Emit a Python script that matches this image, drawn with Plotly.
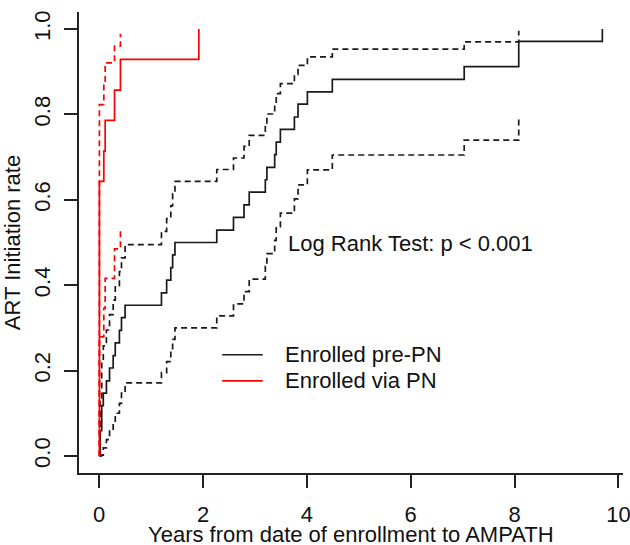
import plotly.graph_objects as go

# ---- data (cumulative ART initiation, KM "event" curves) ----
pre_time = [0, 0.02, 0.05, 0.08, 0.14, 0.20, 0.27, 0.31, 0.39, 0.43, 0.50,
            1.20, 1.30, 1.38, 1.415, 1.46,
            2.265, 2.587, 2.79, 2.89,
            3.20, 3.23, 3.38, 3.41, 3.49, 3.76, 3.83, 4.01, 4.49,
            7.03, 8.08, 9.69]
pre_est = [0, 0.059, 0.118, 0.147, 0.176, 0.206, 0.235, 0.265, 0.294, 0.324, 0.353,
           0.382, 0.412, 0.441, 0.471, 0.500,
           0.529, 0.559, 0.588, 0.618,
           0.647, 0.676, 0.706, 0.735, 0.765, 0.794, 0.824, 0.853, 0.882,
           0.912, 0.971, 1.000]
pre_upper = [0, 0.135, 0.220, 0.258, 0.295, 0.331, 0.365, 0.399, 0.432, 0.464, 0.495,
             0.526, 0.556, 0.586, 0.614, 0.643,
             0.671, 0.698, 0.725, 0.751,
             0.776, 0.801, 0.825, 0.849, 0.872, 0.894, 0.915, 0.935, 0.953,
             0.970, 0.996]
pre_lower = [0, 0, 0.002, 0.019, 0.038, 0.058, 0.079, 0.100, 0.123, 0.147, 0.171,
             0.195, 0.221, 0.247, 0.273, 0.300,
             0.328, 0.356, 0.385, 0.414,
             0.444, 0.474, 0.505, 0.537, 0.569, 0.602, 0.635, 0.670, 0.705,
             0.740, 0.797]

pn_time = [0, 0.005, 0.09, 0.116, 0.296, 0.41, 1.92]
pn_est = [0, 0.643, 0.714, 0.786, 0.857, 0.929, 1.000]
pn_upper = [0, 0.823, 0.875, 0.921, 0.960, 0.989]
pn_lower = [0, 0.279, 0.346, 0.416, 0.485, 0.528]

x_ticks = [0, 2, 4, 6, 8, 10]
y_ticks = [0.0, 0.2, 0.4, 0.6, 0.8, 1.0]

series_names = ["Enrolled pre-PN", "Enrolled via PN"]
series_colors = ["#1a1a1a", "#ff0000"]
annotation_text = "Log Rank Test: p < 0.001"
x_title = "Years from date of enrollment to AMPATH"
y_title = "ART Initiation rate"

FONT = "Liberation Sans, Arial, sans-serif"
FS = 22
LW = 1.7
DASH = "6px,4px"

fig = go.Figure()

def add_group(t, est, up, lo, color):
    n_ci = len(up)
    fig.add_trace(go.Scatter(x=t[:n_ci], y=up, mode="lines", line_shape="hv",
                             line=dict(color=color, width=LW, dash=DASH),
                             showlegend=False, hoverinfo="skip"))
    fig.add_trace(go.Scatter(x=t[:n_ci], y=lo, mode="lines", line_shape="hv",
                             line=dict(color=color, width=LW, dash=DASH),
                             showlegend=False, hoverinfo="skip"))
    fig.add_trace(go.Scatter(x=t, y=est, mode="lines", line_shape="hv",
                             line=dict(color=color, width=LW),
                             showlegend=False))

add_group(pre_time, pre_est, pre_upper, pre_lower, series_colors[0])
add_group(pn_time, pn_est, pn_upper, pn_lower, series_colors[1])

# manual legend (R-style legend box without border)
leg_x0, leg_x1, leg_tx = 2.37, 3.15, 3.54
leg_y = [0.237, 0.176]
for name, col, yy in zip(series_names, series_colors, leg_y):
    fig.add_shape(type="line", xref="x", yref="y", x0=leg_x0, x1=leg_x1, y0=yy, y1=yy,
                  line=dict(color=col, width=LW))
    fig.add_annotation(x=leg_tx, y=yy, xref="x", yref="y", text=name, showarrow=False,
                       xanchor="left", yanchor="middle",
                       font=dict(family=FONT, size=FS, color="#111"))

fig.add_annotation(x=3.59, y=0.497, xref="x", yref="y", text=annotation_text,
                   showarrow=False, xanchor="left", yanchor="middle",
                   font=dict(family=FONT, size=FS, color="#111"))

# x-axis title placed below tick labels (R's mtext line 3)
fig.add_annotation(x=0.5, y=-0.134, xref="paper", yref="paper", text=x_title,
                   showarrow=False, xanchor="center", yanchor="middle",
                   font=dict(family=FONT, size=FS, color="#111"))

axis_common = dict(showgrid=False, zeroline=False, showline=True, linecolor="#222",
                   linewidth=2, ticks="outside", ticklen=13, tickwidth=2, tickcolor="#222",
                   tickfont=dict(family=FONT, size=FS, color="#111"),
                   ticklabeloverflow="allow", mirror=False)

fig.update_layout(
    width=630, height=545,
    margin=dict(l=79, r=7, t=12, b=72),
    paper_bgcolor="white", plot_bgcolor="white",
    showlegend=False,
    xaxis=dict(range=[-0.388, 10.088], tickvals=x_ticks, ticktext=[str(v) for v in x_ticks],
               ticklabelstandoff=8,
               automargin=False, **axis_common),
    yaxis=dict(range=[-0.04, 1.04], tickvals=y_ticks, ticktext=[f"{v:.1f}" for v in y_ticks],
               tickangle=-90, ticklabelstandoff=5,
               title=dict(text=y_title,
                          font=dict(family=FONT, size=FS, color="#111"), standoff=4),
               automargin=False, **axis_common),
)

fig.write_html("out.html", config={"displayModeBar": False},
               post_script="document.body.style.margin='0';")
